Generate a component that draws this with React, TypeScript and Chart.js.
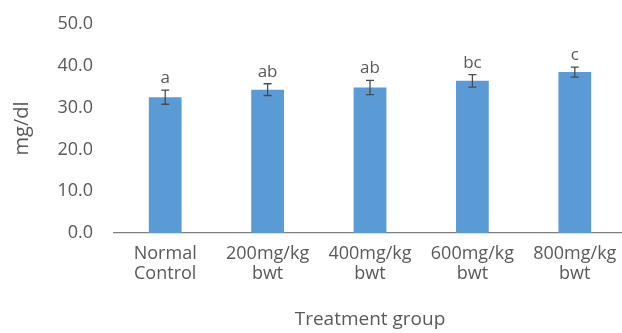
import React, { useEffect, useRef } from "react";
import { Chart, registerables } from "chart.js";

Chart.register(...registerables);

const categories: string[][] = [
  ["Normal", "Control"],
  ["200mg/kg", "bwt"],
  ["400mg/kg", "bwt"],
  ["600mg/kg", "bwt"],
  ["800mg/kg", "bwt"],
];
const means: number[] = [32.5, 34.3, 34.8, 36.4, 38.5];
const errors: number[] = [1.7, 1.4, 1.7, 1.5, 1.2];
const letters: string[] = ["a", "ab", "ab", "bc", "c"];
const yTitle = "mg/dl";
const xTitle = "Treatment group";

const FONT = "'Open Sans', sans-serif";
const TEXT = "#595959";

const errorBarPlugin = {
  id: "errorBars",
  afterDatasetsDraw(chart: any) {
    const ctx = chart.ctx;
    const meta = chart.getDatasetMeta(0);
    const y = chart.scales.y;
    ctx.save();
    meta.data.forEach((bar: any, i: number) => {
      const x = bar.x;
      const top = y.getPixelForValue(means[i] + errors[i]);
      const bot = y.getPixelForValue(means[i] - errors[i]);
      ctx.strokeStyle = "#4a4a4a";
      ctx.lineWidth = 1.3;
      ctx.beginPath();
      ctx.moveTo(x, top);
      ctx.lineTo(x, bot);
      ctx.moveTo(x - 4, top);
      ctx.lineTo(x + 4, top);
      ctx.moveTo(x - 4, bot);
      ctx.lineTo(x + 4, bot);
      ctx.stroke();
      ctx.fillStyle = TEXT;
      ctx.font = `17px ${FONT}`;
      ctx.textAlign = "center";
      ctx.textBaseline = "alphabetic";
      ctx.fillText(letters[i], x, top - 7);
    });
    ctx.restore();
  },
};

export default function App() {
  const ref = useRef<HTMLCanvasElement | null>(null);
  useEffect(() => {
    if (!ref.current) return;
    const chart = new Chart(ref.current, {
      type: "bar",
      data: {
        labels: categories,
        datasets: [
          {
            data: means,
            backgroundColor: "#5B9BD5",
            categoryPercentage: 1,
            barPercentage: 0.32,
          },
        ],
      },
      options: {
        animation: false,
        responsive: true,
        maintainAspectRatio: false,
        layout: { padding: { top: 24, right: 4, left: 0, bottom: 0 } },
        plugins: { legend: { display: false }, tooltip: { enabled: false } },
        scales: {
          x: {
            grid: { display: false, drawTicks: false },
            border: { display: true, color: "#7f7f7f", width: 1.3 },
            ticks: {
              color: TEXT,
              font: { family: FONT, size: 18, lineHeight: 1.1 },
              padding: 11,
              maxRotation: 0,
              autoSkip: false,
            },
            title: {
              display: true,
              text: xTitle,
              color: TEXT,
              font: { family: FONT, size: 19 },
              padding: { top: 0, bottom: 2 },
            },
            afterFit(scale: any) {
              scale.height = 100;
              scale.paddingTop = 0;
              scale.paddingBottom = 0;
              scale.paddingLeft = 0;
              scale.paddingRight = 0;
            },
          },
          y: {
            min: 0,
            max: 50,
            grid: { display: false, drawTicks: false },
            border: { display: false },
            ticks: {
              stepSize: 10,
              color: TEXT,
              font: { family: FONT, size: 18 },
              padding: 21,
              callback: (v: any) => Number(v).toFixed(1),
            },
            title: {
              display: true,
              text: yTitle,
              color: TEXT,
              font: { family: FONT, size: 20 },
              padding: { top: 10, bottom: 0 },
            },
            afterFit(scale: any) {
              scale.width = 114;
              scale.paddingTop = 0;
              scale.paddingBottom = 0;
            },
          },
        },
      },
      plugins: [errorBarPlugin],
    });
    return () => chart.destroy();
  }, []);
  return (
    <div
      style={{
        position: "fixed",
        left: 0,
        top: 0,
        width: 630,
        height: 333,
        background: "#fff",
      }}
    >
      <canvas ref={ref} />
    </div>
  );
}
